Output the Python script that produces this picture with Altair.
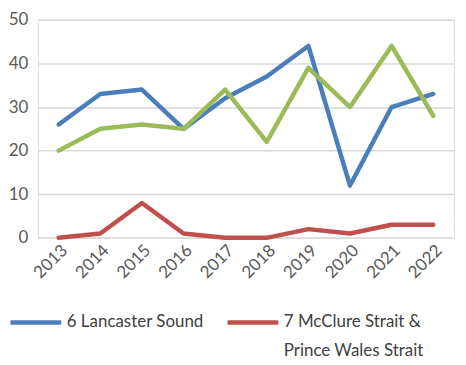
import altair as alt
import pandas as pd

years = ["2013", "2014", "2015", "2016", "2017", "2018", "2019", "2020", "2021", "2022"]
lancaster = [26, 33, 34, 25, 32, 37, 44, 12, 30, 33]
mcclure = [0, 1, 8, 1, 0, 0, 2, 1, 3, 3]
victoria = [20, 25, 26, 25, 34, 22, 39, 30, 44, 28]

series = ["6 Lancaster Sound", "7 McClure Strait & Prince Wales Strait", "9 Victoria Strait"]
colors = ["#4A7EBB", "#C0504D", "#9BBB59"]

rows = []
for name, vals in zip(series, [lancaster, mcclure, victoria]):
    for y, v in zip(years, vals):
        rows.append({"Year": y, "Value": v, "Series": name})
df = pd.DataFrame(rows)

font = "Lato"
two_line = "7 McClure Strait & Prince Wales Strait"

label_expr = (
    f"datum.label == '{two_line}' ? ['7 McClure Strait &', 'Prince Wales Strait'] : "
    "datum.label == '6 Lancaster Sound' ? ['6 Lancaster Sound', ' '] : datum.label"
)

chart = alt.Chart(df).mark_line(strokeWidth=4.5, strokeCap="round", strokeJoin="round").encode(
    x=alt.X("Year:N", sort=years, title=None,
            scale=alt.Scale(paddingInner=0, paddingOuter=0.5),
            axis=alt.Axis(labelAngle=-45, ticks=False, domain=True, domainColor="#D9D9D9",
                          domainWidth=1.5, labelFontSize=17, labelColor="#595959",
                          labelFont=font, labelPadding=4, grid=False)),
    y=alt.Y("Value:Q", title=None,
            scale=alt.Scale(domain=[0, 50], nice=False),
            axis=alt.Axis(values=[0, 10, 20, 30, 40, 50], ticks=False, domain=False,
                          gridColor="#D9D9D9", gridWidth=1.5, labelFontSize=17,
                          labelColor="#595959", labelFont=font, labelPadding=10)),
    color=alt.Color("Series:N", sort=series,
                    scale=alt.Scale(domain=series, range=colors),
                    legend=alt.Legend(orient="none", legendX=-30, legendY=276,
                                      direction="horizontal",
                                      columns=2, title=None,
                                      symbolType="stroke", symbolSize=2600,
                                      symbolStrokeWidth=4.5, labelFontSize=17,
                                      labelFont=font, labelColor="#404040",
                                      labelOffset=3,
                                      columnPadding=14, rowPadding=-72, labelLimit=300,
                                      labelExpr=label_expr)),
).properties(width=418, height=219, padding={"left": 0, "top": 2, "right": 4, "bottom": 0}).configure_view(
    stroke=None
).configure(style={"guide-label": {"lineHeight": 29}})

chart.save("out.html", embed_options={"renderer": "svg", "actions": False})
